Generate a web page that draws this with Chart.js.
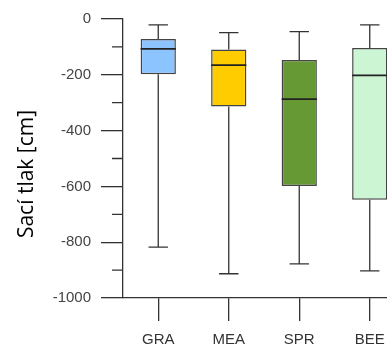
<!DOCTYPE html>
<html lang="cs">
<head>
    <meta charset="utf-8">
    <title>Sací tlak</title>
    <script src="https://cdn.jsdelivr.net/npm/chart.js@4.4.0/dist/chart.umd.js"></script>
    <style>
        html, body { margin: 0; padding: 0; background: #fff; overflow: hidden; }
        #wrap { width: 387px; height: 346px; overflow: hidden; }
    </style>
</head>
<body>
    <div id="wrap">
        <canvas id="boxChart" width="420" height="346"></canvas>
    </div>

    <script>
        // Data
        const categories = ['GRA', 'MEA', 'SPR', 'BEE'];
        const whiskerHigh = [-21, -49, -45, -21];
        const q3 = [-72, -109, -147, -104];
        const median = [-107, -165, -287, -202];
        const q1 = [-198, -314, -599, -648];
        const whiskerLow = [-818, -913, -878, -903];
        const minorTicks = [-100, -300, -500, -700, -900];
        const boxColors = ['#8cc4ff', '#ffcc00', '#669933', '#ccf5d3'];

        const lineColor = '#333';
        const labelFont = { family: "'Liberation Sans', Arial, sans-serif", size: 15 };

        // whiskers, caps, medians, minor ticks, axis title
        const boxExtras = {
            id: 'boxExtras',
            afterDatasetsDraw(chart) {
                const ctx = chart.ctx;
                const x = chart.scales.x;
                const y = chart.scales.y;
                const bars = chart.getDatasetMeta(0).data;
                ctx.save();
                ctx.strokeStyle = lineColor;
                ctx.lineWidth = 1.3;
                categories.forEach((c, i) => {
                    const cx = x.getPixelForValue(i);
                    const half = bars[i].width / 2;
                    const cap = half * 0.55;
                    ctx.beginPath();
                    ctx.moveTo(cx, y.getPixelForValue(whiskerHigh[i]));
                    ctx.lineTo(cx, y.getPixelForValue(q3[i]));
                    ctx.moveTo(cx, y.getPixelForValue(q1[i]));
                    ctx.lineTo(cx, y.getPixelForValue(whiskerLow[i]));
                    ctx.moveTo(cx - cap, y.getPixelForValue(whiskerHigh[i]));
                    ctx.lineTo(cx + cap, y.getPixelForValue(whiskerHigh[i]));
                    ctx.moveTo(cx - cap, y.getPixelForValue(whiskerLow[i]));
                    ctx.lineTo(cx + cap, y.getPixelForValue(whiskerLow[i]));
                    ctx.stroke();
                    ctx.beginPath();
                    ctx.lineWidth = 1.7;
                    ctx.strokeStyle = '#222';
                    ctx.moveTo(cx - half, y.getPixelForValue(median[i]));
                    ctx.lineTo(cx + half, y.getPixelForValue(median[i]));
                    ctx.stroke();
                    ctx.lineWidth = 1.3;
                    ctx.strokeStyle = lineColor;
                });
                // minor ticks on the y axis
                ctx.beginPath();
                minorTicks.forEach(v => {
                    const py = y.getPixelForValue(v);
                    ctx.moveTo(y.right - 11, py);
                    ctx.lineTo(y.right, py);
                });
                ctx.stroke();
                // axis title (sits lower than the centre of the scale)
                ctx.translate(27, 174);
                ctx.rotate(-Math.PI / 2);
                ctx.fillStyle = '#000';
                ctx.font = "21px 'Open Sans', sans-serif";
                ctx.textAlign = 'center';
                ctx.textBaseline = 'middle';
                ctx.fillText('Sací tlak [cm]', 0, 0);
                ctx.restore();
            }
        };

        const ctx = document.getElementById('boxChart').getContext('2d');
        new Chart(ctx, {
            type: 'bar',
            data: {
                labels: categories,
                datasets: [{
                    data: categories.map((c, i) => [q1[i], q3[i]]),
                    backgroundColor: boxColors,
                    borderColor: '#444',
                    borderWidth: 1.5,
                    borderSkipped: false,
                    barPercentage: 0.5,
                    categoryPercentage: 1
                }]
            },
            options: {
                responsive: false,
                animation: false,
                layout: { padding: { top: 17, right: 15, left: 0, bottom: 0 } },
                plugins: {
                    legend: { display: false },
                    tooltip: { enabled: false }
                },
                scales: {
                    x: {
                        offset: true,
                        grid: { drawOnChartArea: false, offset: false, tickLength: 23, color: lineColor, lineWidth: 1.3 },
                        border: { color: lineColor, width: 1.3 },
                        ticks: { color: '#333', font: labelFont, padding: 10 },
                        afterFit(scale) { scale.height = 48; }
                    },
                    y: {
                        min: -1000,
                        max: 0,
                        grid: { drawOnChartArea: false, tickLength: 22, color: lineColor, lineWidth: 1.3 },
                        border: { color: lineColor, width: 1.3 },
                        ticks: {
                            stepSize: 200,
                            color: '#444',
                            font: labelFont,
                            padding: 10,
                            callback: v => String(v)
                        },
                        afterFit(scale) { scale.width = 123; }
                    }
                }
            },
            plugins: [boxExtras]
        });
    </script>
</body>
</html>
